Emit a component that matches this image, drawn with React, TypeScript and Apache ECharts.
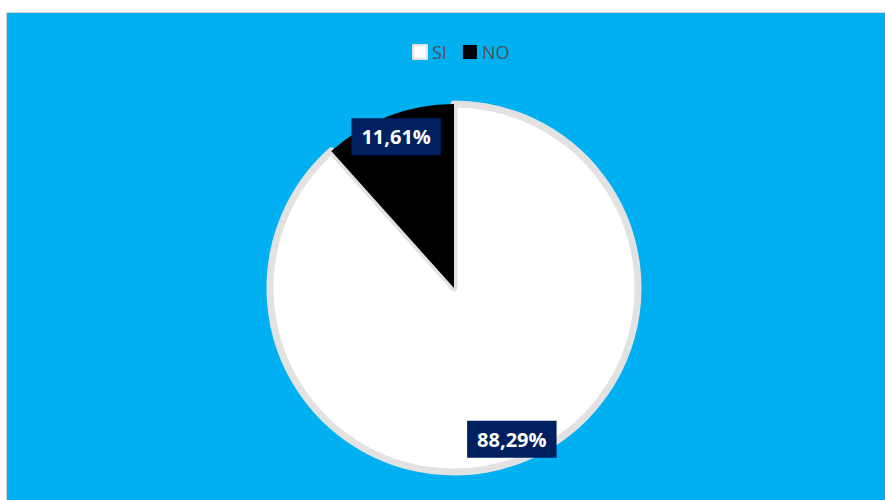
import React, { useEffect, useRef } from "react";
import * as echarts from "echarts";

const categories = ["SI", "NO"];
const values = [88.29, 11.61];
const labels = ["88,29%", "11,61%"];
const sliceColors = ["#ffffff", "#000000"];

export default function App() {
  const ref = useRef<HTMLDivElement>(null);
  useEffect(() => {
    if (!ref.current) return;
    const chart = echarts.init(ref.current, null, { renderer: "svg" });
    const data = categories.map((name, i) => ({
      name,
      value: values[i],
      itemStyle:
        i === 0
          ? { color: sliceColors[i], borderColor: "#e2e2e2", borderWidth: 7 }
          : { color: sliceColors[i], borderWidth: 0 },
    }));
    const labelData = categories.map((name, i) => ({
      name,
      value: values[i],
      label: { formatter: labels[i] },
    }));
    chart.setOption({
      animation: false,
      backgroundColor: "#00B0F0",
      legend: {
        data: categories,
        left: 400,
        top: 25,
        itemWidth: 14,
        itemHeight: 14,
        itemGap: 16,
        icon: "rect",
        textStyle: {
          color: "#505050",
          fontSize: 18,
          fontFamily: "Open Sans",
        },
      },
      series: [
        {
          type: "pie",
          center: [447, 275],
          radius: [0, 184],
          startAngle: 90,
          clockwise: true,
          label: { show: false },
          labelLine: { show: false },
          emphasis: { disabled: true },
          data,
        },
        {
          type: "pie",
          center: [447, 275],
          radius: [134, 184],
          startAngle: 90,
          clockwise: true,
          silent: true,
          legendHoverLink: false,
          itemStyle: { color: "transparent", borderWidth: 0 },
          label: {
            show: true,
            position: "inside",
            backgroundColor: "#002060",
            color: "#ffffff",
            fontWeight: "bold",
            fontSize: 20,
            fontFamily: "Open Sans",
            padding: [9, 10, 8, 10],
          },
          labelLine: { show: false },
          emphasis: { disabled: true },
          data: labelData,
        },
      ],
    });
    return () => chart.dispose();
  }, []);
  return (
    <div
      style={{
        position: "fixed",
        left: 6,
        top: 12,
        borderTop: "1px solid #d4d4d4",
        borderLeft: "1px solid #d4d4d4",
      }}
    >
      <div ref={ref} style={{ width: 878, height: 487 }} />
    </div>
  );
}
